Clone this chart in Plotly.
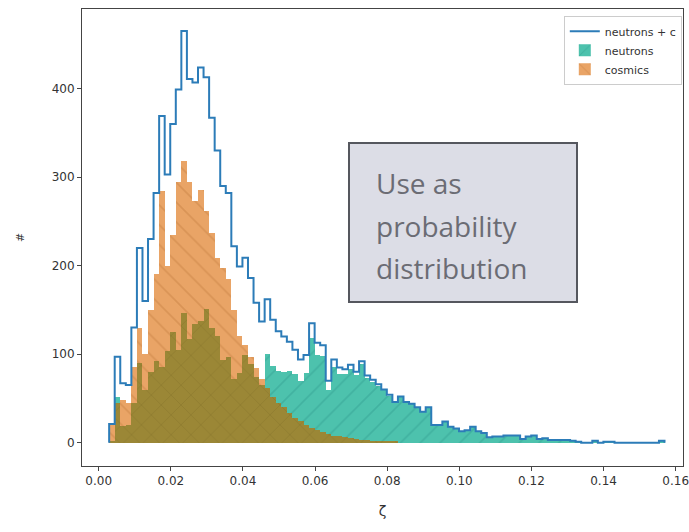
import numpy as np
import plotly.graph_objects as go

# Histogram binning in zeta
zeta_lo = 0.0029
zeta_hi = 0.1569
n_bins = 100

# Counts per bin: cosmics
cosmics = [20, 45, 48, 45, 85, 130, 100, 150, 190, 284,
           200, 235, 294, 318, 294, 273, 286, 262, 237, 209,
           197, 185, 150, 120, 110, 97, 84, 72, 62, 52,
           45, 40, 33, 28, 24, 20, 17, 14, 12, 10,
           8, 7, 6, 5, 4, 3, 3, 2, 2, 1,
           1, 1, 0, 0, 0, 0, 0, 0, 0, 0,
           0, 0, 0, 0, 0, 0, 0, 0, 0, 0,
           0, 0, 0, 0, 0, 0, 0, 0, 0, 0,
           0, 0, 0, 0, 0, 0, 0, 0, 0, 0,
           0, 0, 0, 0, 0, 0, 0, 0, 0, 0]

# Counts per bin: neutrons
neutrons = [1, 52, 19, 20, 45, 90, 60, 80, 92, 85,
            103, 125, 105, 147, 117, 134, 138, 151, 130, 121,
            93, 97, 72, 79, 99, 89, 74, 65, 100, 87,
            81, 80, 81, 77, 70, 79, 118, 99, 98, 60,
            86, 78, 77, 83, 76, 89, 73, 69, 64, 59,
            53, 45, 52, 46, 44, 40, 35, 40, 20, 20,
            24, 18, 16, 13, 14, 18, 13, 11, 6, 7,
            7, 8, 8, 8, 4, 7, 8, 4, 5, 3,
            3, 3, 3, 2, 1, 0, 0, 2, 0, 1,
            1, 0, 0, 0, 0, 0, 0, 0, 0, 2]

y_ticks = [0, 100, 200, 300, 400]
x_ticks = [0.00, 0.02, 0.04, 0.06, 0.08, 0.10, 0.12, 0.14, 0.16]

edges = np.linspace(zeta_lo, zeta_hi, n_bins + 1)
centers = 0.5 * (edges[:-1] + edges[1:])
bw = edges[1] - edges[0]
n_arr = np.array(neutrons)
c_arr = np.array(cosmics)
total = n_arr + c_arr
overlap = np.minimum(n_arr, c_arr)

fig = go.Figure()

fig.add_trace(go.Bar(
    x=centers, y=n_arr, width=bw, name="neutrons",
    marker=dict(color="#4dc2ad", line=dict(width=0),
                pattern=dict(shape="/", fgcolor="#36a294", bgcolor="#4dc2ad",
                             size=14, solidity=0.12)),
    legendrank=2,
))
fig.add_trace(go.Bar(
    x=centers, y=c_arr, width=bw, name="cosmics",
    marker=dict(color="#e9a466", line=dict(width=0),
                pattern=dict(shape="\\", fgcolor="#c98345", bgcolor="#e9a466",
                             size=14, solidity=0.12)),
    legendrank=3,
))
fig.add_trace(go.Bar(
    x=centers, y=overlap, width=bw, showlegend=False, hoverinfo="skip",
    marker=dict(color="#9b8736", line=dict(width=0),
                pattern=dict(shape="x", fgcolor="#83722b", bgcolor="#9b8736",
                             size=14, solidity=0.12)),
))

# Step outline of the summed histogram
step_x = np.concatenate([[edges[0]], edges])
step_y = np.concatenate([[0], total, [0]])
fig.add_trace(go.Scatter(
    x=step_x, y=step_y, mode="lines", name="neutrons + c",
    line=dict(color="#2c7cb8", width=2, shape="hv"),
    legendrank=1,
))

L, R, T, B = 82, 6, 9, 66
W, H = 689, 532
pw = W - L - R
ph = H - T - B

def px(x):
    return (x - L) / pw

def py(y):
    return (H - B - y) / ph

fig.add_shape(type="rect", xref="paper", yref="paper",
              x0=px(349), x1=px(577), y0=py(302), y1=py(143),
              fillcolor="#dcdde6", line=dict(color="#55575e", width=2), layer="above")
for txt, yc in [("Use as", 183), ("probability", 226), ("distribution", 268)]:
    fig.add_annotation(text=txt, xref="paper", yref="paper", x=px(374), y=py(yc),
                       xanchor="left", yanchor="middle", showarrow=False,
                       font=dict(family="Open Sans", size=28, color="#6b6c74"))

axis_common = dict(showline=True, mirror=True, linecolor="#444444", linewidth=1,
                   ticks="outside", ticklen=4, tickcolor="#444444", showgrid=False,
                   zeroline=False, automargin=False,
                   tickfont=dict(family="DejaVu Sans", size=12, color="#333333"))

fig.update_layout(
    width=W, height=H,
    margin=dict(l=L, r=R, t=T, b=B, autoexpand=False),
    barmode="overlay", bargap=0,
    plot_bgcolor="white", paper_bgcolor="white",
    xaxis=dict(range=[-0.00463, 0.16203], tickvals=x_ticks,
               ticktext=[f"{v:.2f}" for v in x_ticks], ticklabeloverflow="allow",
               title=dict(text="ζ", font=dict(family="DejaVu Sans", size=14, color="#333333"), standoff=18),
               **axis_common),
    yaxis=dict(range=[-26.4, 490], tickvals=y_ticks,
               title=dict(text="#", font=dict(family="DejaVu Sans", size=11, color="#333333"), standoff=24),
               **axis_common),
    legend=dict(x=0.998, y=0.985, xanchor="right", yanchor="top",
                bgcolor="rgba(255,255,255,0.9)", bordercolor="#cccccc", borderwidth=1,
                font=dict(family="DejaVu Sans", size=11, color="#333333"),
                tracegroupgap=0, itemwidth=30),
    showlegend=True,
)

fig.write_html("out.html")
